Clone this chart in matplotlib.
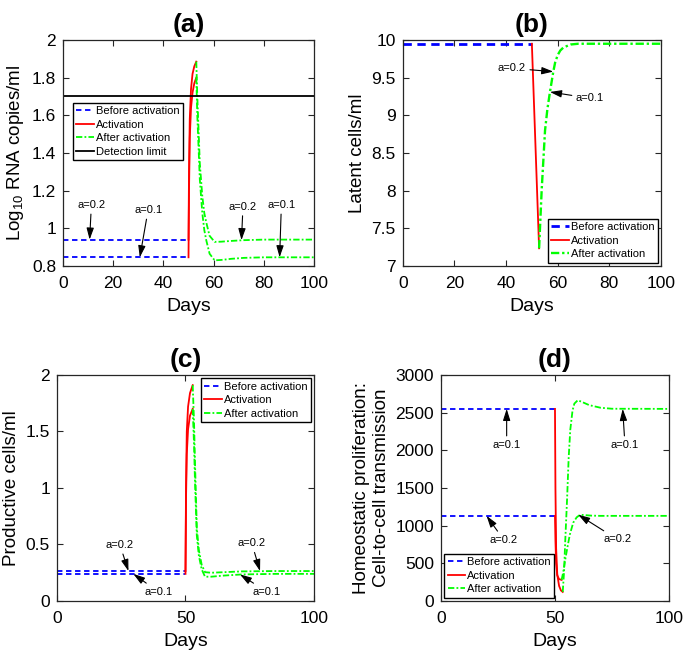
import matplotlib.pyplot as plt
from matplotlib.ticker import FuncFormatter

plt.rcParams['font.family'] = ['Liberation Sans', 'DejaVu Sans']
plt.rcParams['mathtext.fontset'] = 'custom'
plt.rcParams['mathtext.rm'] = 'Liberation Sans'
plt.rcParams['mathtext.it'] = 'Liberation Sans:italic'

# ---------------- data ----------------
# (a) viral load, log10 RNA copies/ml
a_before_days = [0, 50]
a_before_02 = [0.94, 0.94]
a_before_01 = [0.846, 0.846]
a_act_days = [50, 50.2, 50.5, 51, 51.6, 52.3, 53.1]
a_act_02 = [0.94, 1.3, 1.58, 1.74, 1.82, 1.86, 1.885]
a_act_01 = [0.846, 1.2, 1.48, 1.64, 1.72, 1.77, 1.80]
a_after_days = [53.1, 53.5, 54.5, 55.5, 56.3, 57.1, 58.4, 60.4, 63, 67, 72, 80, 100]
a_after_02 = [1.885, 1.70, 1.345, 1.17, 1.08, 1.03, 0.96, 0.928, 0.929, 0.933, 0.937, 0.94, 0.94]
a_after_01 = [1.80, 1.60, 1.26, 1.08, 0.99, 0.935, 0.865, 0.83, 0.832, 0.838, 0.843, 0.846, 0.846]
detection_limit = 1.7

# (b) latent cells/ml
b_before_days = [0, 50]
b_before = [9.95, 9.95]
b_act_days = [50, 52.8]
b_act = [9.95, 7.235]
b_after_days = [52.8, 53.8, 55.1, 56, 57.0, 58.3, 59, 60, 61, 62.2, 65, 68, 100]
b_after = [7.235, 8.01, 8.8, 9.08, 9.31, 9.58, 9.7, 9.8, 9.86, 9.9, 9.94, 9.95, 9.95]

# (c) productive cells/ml
c_before_days = [0, 50]
c_before_02 = [0.265, 0.265]
c_before_01 = [0.24, 0.24]
c_act_days = [50, 50.2, 50.5, 51, 51.75, 52.8]
c_act_02 = [0.265, 1.0, 1.5, 1.72, 1.84, 1.91]
c_act_01 = [0.24, 0.9, 1.3, 1.52, 1.64, 1.70]
c_after_days = [52.8, 53.3, 53.7, 54.4, 55.2, 56.3, 57.6, 60, 65, 72, 85, 100]
c_after_02 = [1.91, 1.6, 1.22, 0.65, 0.45, 0.32, 0.255, 0.25, 0.255, 0.262, 0.265, 0.265]
c_after_01 = [1.70, 1.40, 1.05, 0.58, 0.40, 0.28, 0.215, 0.215, 0.225, 0.235, 0.24, 0.24]

# (d) homeostatic proliferation : cell-to-cell transmission
d_before_days = [0, 50]
d_before_01 = [2550, 2550]
d_before_02 = [1130, 1130]
d_act_days_01 = [50, 50.2, 50.5, 51, 51.8, 52.6, 53.4]
d_act_01 = [2550, 1500, 700, 350, 200, 140, 120]
d_act_days_02 = [50, 50.2, 50.5, 51, 51.8, 52.9]
d_act_02 = [1130, 800, 500, 340, 290, 280]
d_after_days_01 = [53.4, 54, 54.5, 55.3, 56, 56.7, 57.7, 58.5, 60, 62, 65, 70, 75, 100]
d_after_01 = [120, 400, 800, 1350, 1900, 2270, 2530, 2620, 2665, 2640, 2600, 2565, 2552, 2550]
d_after_days_02 = [52.9, 53.6, 54.5, 55.5, 56.5, 58, 59.5, 61, 63, 66, 70, 100]
d_after_02 = [280, 380, 550, 720, 880, 1040, 1110, 1145, 1140, 1133, 1130, 1130]

# annotation labels: (text, tip day, tip value, text day, text value)
a_notes = [('a=0.2', 10.6, 0.94, 11.3, 1.124),
           ('a=0.1', 30.6, 0.846, 33.9, 1.097),
           ('a=0.2', 71.1, 0.937, 71.7, 1.115),
           ('a=0.1', 86.3, 0.846, 87.0, 1.124)]
b_notes = [('a=0.2', 58.3, 9.58, 42.2, 9.624),
           ('a=0.1', 57.0, 9.31, 72.5, 9.226)]
c_notes = [('a=0.2', 27.8, 0.265, 24.5, 0.496),
           ('a=0.1', 29.7, 0.24, 39.4, 0.082),
           ('a=0.2', 79.0, 0.265, 75.8, 0.51),
           ('a=0.1', 71.2, 0.235, 81.6, 0.082)]
d_notes = [('a=0.1', 28.8, 2550, 28.8, 2070),
           ('a=0.1', 79.7, 2550, 80.7, 2070),
           ('a=0.2', 20.0, 1130, 27.6, 809),
           ('a=0.2', 60.2, 1145, 77.3, 819)]

BLUE = (0, 0, 1)
RED = (1, 0, 0)
GREEN = (0, 1, 0)
LW = 1.3
DASH = (0, (3.0, 2.0))
DASHDOT = (0, (3.5, 1.2, 1.0, 1.2))


def style_axes(ax, title, xticks, yticks, ylim, ylabel):
    ax.set_xlim(0, 100)
    ax.set_ylim(*ylim)
    ax.set_xticks(xticks)
    ax.set_yticks(yticks)
    fmt = FuncFormatter(lambda v, p: '%g' % v)
    ax.xaxis.set_major_formatter(fmt)
    ax.yaxis.set_major_formatter(fmt)
    ax.tick_params(direction='in', top=True, right=True, length=4,
                   width=0.8, labelsize=12.5, colors='0.15', labelcolor='k')
    ax.tick_params(axis='x', pad=7)
    ax.tick_params(axis='y', pad=5)
    for s in ax.spines.values():
        s.set_linewidth(0.9)
        s.set_color('0.15')
    ax.set_title(title, fontsize=19, fontweight='bold', pad=6)
    ax.set_xlabel('Days', fontsize=14, labelpad=5)
    ax.set_ylabel(ylabel, fontsize=13.5)


def add_notes(ax, notes):
    for txt, x, y, tx, ty in notes:
        ax.annotate(txt, xy=(x, y), xytext=(tx, ty), ha='center', va='center',
                    fontsize=8,
                    arrowprops=dict(arrowstyle='-|>,head_length=0.7,head_width=0.22',
                                    color='k', lw=0.8, shrinkA=1, shrinkB=0,
                                    mutation_scale=10))


def add_legend(ax, handles, labels, **kw):
    leg = ax.legend(handles, labels, fontsize=8, handlelength=1.6,
                    handletextpad=0.15, labelspacing=0.32, borderpad=0.3,
                    fancybox=False, framealpha=1, edgecolor='k', **kw)
    leg.get_frame().set_linewidth(1.0)


fig = plt.figure(figsize=(6.85, 6.5), dpi=100)
ax_a = fig.add_axes([0.092, 0.5908, 0.3664, 0.3477])
ax_b = fig.add_axes([0.5879, 0.5908, 0.3771, 0.3477])
ax_c = fig.add_axes([0.0832, 0.0754, 0.3752, 0.3477])
ax_d = fig.add_axes([0.6438, 0.0754, 0.3328, 0.3477])

# ---- (a) ----
h1, = ax_a.plot(a_before_days, a_before_02, ls=DASH, color=BLUE, lw=LW)
ax_a.plot(a_before_days, a_before_01, ls=DASH, color=BLUE, lw=LW)
h2, = ax_a.plot(a_act_days, a_act_02, '-', color=RED, lw=LW)
ax_a.plot(a_act_days, a_act_01, '-', color=RED, lw=LW)
h3, = ax_a.plot(a_after_days, a_after_02, ls=DASHDOT, color=GREEN, lw=LW)
ax_a.plot(a_after_days, a_after_01, ls=DASHDOT, color=GREEN, lw=LW)
h4 = ax_a.axhline(detection_limit, color='k', lw=LW)
style_axes(ax_a, '(a)', [0, 20, 40, 60, 80, 100],
           [0.8, 1, 1.2, 1.4, 1.6, 1.8, 2], (0.8, 2), r'Log$_{10}$ RNA copies/ml')
add_notes(ax_a, a_notes)
add_legend(ax_a, [h1, h2, h3, h4],
           ['Before activation', 'Activation', 'After activation', 'Detection limit'],
           loc='upper left', bbox_to_anchor=(0.04, 0.7226), borderaxespad=0)

# ---- (b) ----
h1, = ax_b.plot(b_before_days, b_before, ls=DASH, color=BLUE, lw=2.0)
h2, = ax_b.plot(b_act_days, b_act, '-', color=RED, lw=LW)
h3, = ax_b.plot(b_after_days, b_after, ls=DASHDOT, color=GREEN, lw=1.7)
style_axes(ax_b, '(b)', [0, 20, 40, 60, 80, 100],
           [7, 7.5, 8, 8.5, 9, 9.5, 10], (7, 10), 'Latent cells/ml')
add_notes(ax_b, b_notes)
add_legend(ax_b, [h1, h2, h3], ['Before activation', 'Activation', 'After activation'],
           loc='lower right', borderaxespad=0.3)

# ---- (c) ----
h1, = ax_c.plot(c_before_days, c_before_02, ls=DASH, color=BLUE, lw=LW)
ax_c.plot(c_before_days, c_before_01, ls=DASH, color=BLUE, lw=LW)
h2, = ax_c.plot(c_act_days, c_act_02, '-', color=RED, lw=LW)
ax_c.plot(c_act_days, c_act_01, '-', color=RED, lw=LW)
h3, = ax_c.plot(c_after_days, c_after_02, ls=DASHDOT, color=GREEN, lw=LW)
ax_c.plot(c_after_days, c_after_01, ls=DASHDOT, color=GREEN, lw=LW)
style_axes(ax_c, '(c)', [0, 50, 100], [0, 0.5, 1, 1.5, 2], (0, 2),
           'Productive cells/ml')
add_notes(ax_c, c_notes)
add_legend(ax_c, [h1, h2, h3], ['Before activation', 'Activation', 'After activation'],
           loc='upper right', borderaxespad=0.3)

# ---- (d) ----
h1, = ax_d.plot(d_before_days, d_before_01, ls=DASH, color=BLUE, lw=LW)
ax_d.plot(d_before_days, d_before_02, ls=DASH, color=BLUE, lw=LW)
h2, = ax_d.plot(d_act_days_01, d_act_01, '-', color=RED, lw=LW)
ax_d.plot(d_act_days_02, d_act_02, '-', color=RED, lw=LW)
h3, = ax_d.plot(d_after_days_01, d_after_01, ls=DASHDOT, color=GREEN, lw=LW)
ax_d.plot(d_after_days_02, d_after_02, ls=DASHDOT, color=GREEN, lw=LW)
style_axes(ax_d, '(d)', [0, 50, 100], list(range(0, 3001, 500)), (0, 3000),
           'Homeostatic proliferation:\nCell-to-cell transmission')
add_notes(ax_d, d_notes)
add_legend(ax_d, [h1, h2, h3], ['Before activation', 'Activation', 'After activation'],
           loc='lower left', borderaxespad=0.3)

fig.savefig('out.png', dpi=100)
